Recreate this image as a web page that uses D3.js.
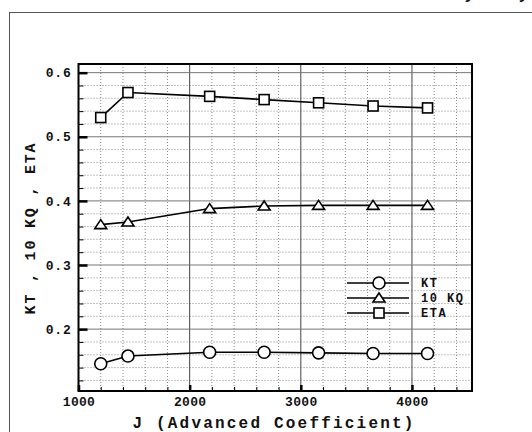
<!DOCTYPE html>
<html>
<head>
<meta charset="utf-8">
<script src="https://cdn.jsdelivr.net/npm/d3@7"></script>
<style>
  body { margin: 0; background: #fff; }
  svg { display: block; }
  text { font-family: "Liberation Mono", "Courier New", monospace; font-weight: bold; fill: #111; }
</style>
</head>
<body>
<div id="chart"></div>
<script>
// Data
var jValues = [1200, 1445, 2180, 2670, 3160, 3650, 4140];
var kt      = [0.146, 0.158, 0.164, 0.164, 0.163, 0.162, 0.162];
var kq10    = [0.363, 0.367, 0.388, 0.392, 0.393, 0.393, 0.393];
var eta     = [0.530, 0.569, 0.563, 0.558, 0.553, 0.548, 0.545];
var seriesNames = ["KT", "10 KQ", "ETA"];
var seriesSymbols = ["circle", "triangle", "square"];
var xTicks = [1000, 2000, 3000, 4000];
var yTicks = [0.2, 0.3, 0.4, 0.5, 0.6];

var W = 532, H = 432;
var m = {top: 64, right: 60, bottom: 41, left: 78.5}
  , w = W - m.left - m.right
  , h = H - m.top - m.bottom;

var svg = d3.select("#chart").append("svg")
  .attr("width", W)
  .attr("height", H);

// outer frame (runs off the right and bottom edge)
svg.append("rect")
  .attr("x", 9.5).attr("y", 12.5)
  .attr("width", 540).attr("height", 440)
  .attr("fill", "none")
  .attr("stroke", "#555")
  .attr("stroke-width", 1);

// clipped glyph pieces at the top right
svg.append("text").attr("x", 466).attr("y", -1)
  .style("font-style", "italic").style("font-size", "16px").text("y");
svg.append("text").attr("x", 520).attr("y", -1)
  .style("font-style", "italic").style("font-size", "16px").text("y");

var g = svg.append("g")
  .attr("transform", "translate(" + m.left + "," + m.top + ")");

var x = d3.scaleLinear().domain([1000, 4540]).range([0, w]);
var y = d3.scaleLinear().domain([0.1035, 0.6135]).range([h, 0]);

// minor grid (dotted)
g.append("g").selectAll("line")
  .data(d3.range(1200, 4540, 200).filter(function(d) { return d % 1000 !== 0; }))
  .join("line")
  .attr("x1", function(d) { return x(d); }).attr("x2", function(d) { return x(d); })
  .attr("y1", 0).attr("y2", h)
  .attr("stroke", "#888").attr("stroke-width", 1).attr("stroke-dasharray", "1,2");
g.append("g").selectAll("line")
  .data(d3.range(0.12, 0.61, 0.02).filter(function(d) { return Math.abs(d * 10 - Math.round(d * 10)) > 0.01; }))
  .join("line")
  .attr("x1", 0).attr("x2", w)
  .attr("y1", function(d) { return y(d); }).attr("y2", function(d) { return y(d); })
  .attr("stroke", "#888").attr("stroke-width", 1).attr("stroke-dasharray", "1,2");

// major grid
g.append("g").selectAll("line")
  .data(xTicks.slice(1))
  .join("line")
  .attr("x1", function(d) { return x(d); }).attr("x2", function(d) { return x(d); })
  .attr("y1", 0).attr("y2", h)
  .attr("stroke", "#444").attr("stroke-width", 1);
g.append("g").selectAll("line")
  .data(yTicks)
  .join("line")
  .attr("x1", 0).attr("x2", w)
  .attr("y1", function(d) { return y(d); }).attr("y2", function(d) { return y(d); })
  .attr("stroke", "#777").attr("stroke-width", 1);

// axes with inward ticks
var xMinor = d3.axisBottom(x).tickValues(d3.range(1000, 4540, 200)).tickSize(-4).tickFormat("");
var yMinor = d3.axisLeft(y).tickValues(d3.range(0.12, 0.61, 0.02)).tickSize(-5).tickFormat("");
g.append("g").attr("transform", "translate(0," + h + ")").call(xMinor)
  .call(function(s) { s.select(".domain").remove(); s.selectAll("line").attr("stroke", "#000"); });
g.append("g").call(yMinor)
  .call(function(s) { s.select(".domain").remove(); s.selectAll("line").attr("stroke", "#000"); });

var xAxis = d3.axisBottom(x).tickValues(xTicks).tickSize(-6).tickPadding(5.5).tickFormat(d3.format("d"));
var yAxis = d3.axisLeft(y).tickValues(yTicks).tickSize(-9).tickPadding(7).tickFormat(d3.format(".1f"));
g.append("g").attr("transform", "translate(0," + h + ")").call(xAxis)
  .call(function(s) {
    s.select(".domain").remove();
    s.selectAll("line").attr("stroke", "#000").attr("stroke-width", 2.5);
    s.selectAll("text").style("font-size", "13px").style("letter-spacing", "0.3px").attr("fill", "#111");
  });
g.append("g").call(yAxis)
  .call(function(s) {
    s.select(".domain").remove();
    s.selectAll("line").attr("stroke", "#000").attr("stroke-width", 2.5);
    s.selectAll("text").style("font-size", "13px").style("letter-spacing", "0.8px").attr("fill", "#111");
  });

// plot frame
g.append("rect")
  .attr("width", w).attr("height", h)
  .attr("fill", "none").attr("stroke", "#000").attr("stroke-width", 2);

// symbols
function drawSymbol(sel, type, cx, cy) {
  if (type === "circle") {
    sel.append("circle").attr("cx", cx).attr("cy", cy).attr("r", 6);
  } else if (type === "square") {
    sel.append("rect").attr("x", cx - 5).attr("y", cy - 5).attr("width", 10).attr("height", 10);
  } else {
    sel.append("path").attr("d", "M" + (cx - 6) + "," + (cy + 4) + "L" + cx + "," + (cy - 5) + "L" + (cx + 6) + "," + (cy + 4) + "Z");
  }
}

var allSeries = [kt, kq10, eta];
var line = d3.line()
  .x(function(d, i) { return x(jValues[i]); })
  .y(function(d) { return y(d); });

allSeries.forEach(function(vals, k) {
  g.append("path")
    .datum(vals)
    .attr("d", line)
    .attr("fill", "none")
    .attr("stroke", "#000")
    .attr("stroke-width", 1.6);
  var sg = g.append("g").attr("fill", "#fff").attr("stroke", "#000").attr("stroke-width", 1.6);
  vals.forEach(function(v, i) {
    drawSymbol(sg, seriesSymbols[k], x(jValues[i]), y(v));
  });
});

// legend
var legend = svg.append("g").attr("transform", "translate(347,283)");
seriesNames.forEach(function(name, k) {
  var row = legend.append("g").attr("transform", "translate(0," + (k * 15) + ")");
  row.append("line").attr("x1", 0).attr("x2", 62).attr("y1", 0).attr("y2", 0)
    .attr("stroke", "#000").attr("stroke-width", 1.6);
  var sg = row.append("g").attr("fill", "#fff").attr("stroke", "#000").attr("stroke-width", 1.6);
  drawSymbol(sg, seriesSymbols[k], 32, 0);
  row.append("text").attr("x", 74).attr("y", 4)
    .style("font-size", "12px").style("letter-spacing", "1.5px")
    .text(name);
});

// axis titles
svg.append("text")
  .attr("x", 274).attr("y", 428)
  .attr("text-anchor", "middle")
  .style("font-size", "16px").style("letter-spacing", "2.2px")
  .text("J (Advanced Coefficient)");

svg.append("text")
  .attr("transform", "translate(35,228) rotate(-90)")
  .attr("text-anchor", "middle")
  .style("font-size", "15px").style("letter-spacing", "1.8px")
  .text("KT , 10 KQ , ETA");
</script>
</body>
</html>
